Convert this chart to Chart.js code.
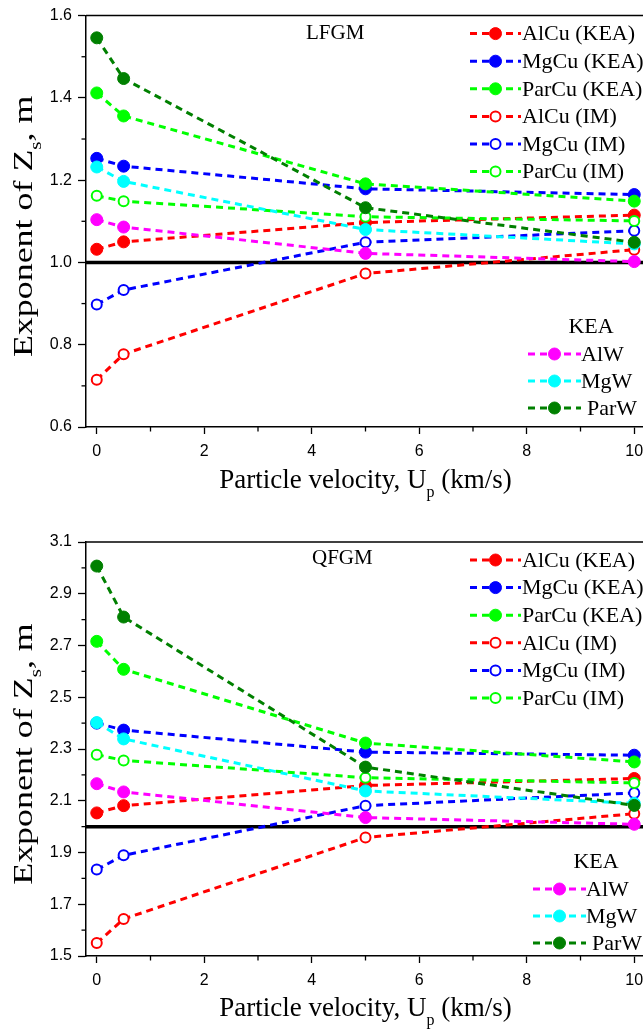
<!DOCTYPE html>
<html>
<head>
<meta charset="utf-8">
<script src="https://cdn.jsdelivr.net/npm/chart.js@4.4.1/dist/chart.umd.min.js"></script>
<style>
  html, body { margin: 0; padding: 0; background: #fff; overflow: hidden; }
  .box { position: absolute; left: 0; width: 700px; height: 515px; }
  #boxTop { top: 0; }
  #boxBottom { top: 515px; }
</style>
</head>
<body>
<div class="box" id="boxTop"><canvas id="lfgmChart"></canvas></div>
<div class="box" id="boxBottom"><canvas id="qfgmChart"></canvas></div>
<script>
// shared x values (particle velocity, km/s)
const velocity = [0, 0.5, 5, 10];
const xTicks = [0, 2, 4, 6, 8, 10];
const xRange = [-0.2, 10.2];

const cuNames = ['AlCu (KEA)', 'MgCu (KEA)', 'ParCu (KEA)', 'AlCu (IM)', 'MgCu (IM)', 'ParCu (IM)'];
const wNames = ['AlW', 'MgW', 'ParW'];

// LFGM values
const lfgmTicks = [0.6, 0.8, 1.0, 1.2, 1.4, 1.6];
const lfgmAlCuKEA = [1.032, 1.050, 1.097, 1.115];
const lfgmMgCuKEA = [1.253, 1.234, 1.179, 1.165];
const lfgmParCuKEA = [1.412, 1.356, 1.191, 1.149];
const lfgmAlCuIM = [0.715, 0.777, 0.973, 1.031];
const lfgmMgCuIM = [0.898, 0.933, 1.049, 1.077];
const lfgmParCuIM = [1.162, 1.149, 1.111, 1.101];
const lfgmAlW = [1.104, 1.086, 1.022, 1.002];
const lfgmMgW = [1.232, 1.197, 1.080, 1.045];
const lfgmParW = [1.546, 1.447, 1.133, 1.049];
const lfgmRef = 1.0;

// QFGM values
const qfgmTicks = [1.5, 1.7, 1.9, 2.1, 2.3, 2.5, 2.7, 2.9, 3.1];
const qfgmAlCuKEA = [2.053, 2.081, 2.159, 2.186];
const qfgmMgCuKEA = [2.400, 2.373, 2.288, 2.276];
const qfgmParCuKEA = [2.716, 2.608, 2.323, 2.250];
const qfgmAlCuIM = [1.550, 1.643, 1.958, 2.050];
const qfgmMgCuIM = [1.834, 1.889, 2.081, 2.130];
const qfgmParCuIM = [2.278, 2.256, 2.189, 2.169];
const qfgmAlW = [2.166, 2.134, 2.035, 2.009];
const qfgmMgW = [2.402, 2.339, 2.138, 2.090];
const qfgmParW = [3.007, 2.810, 2.230, 2.082];
const qfgmRef = 2.0;

const RED = '#ff0000', BLUE = '#0000ff', GREEN = '#00ff00';
const MAGENTA = '#ff00ff', CYAN = '#00ffff', DKGREEN = '#008000';
const SERIF = '"Liberation Serif", "Times New Roman", serif';
const SANS = '"Liberation Sans", Arial, sans-serif';

function series(label, values, color, open, group, idx) {
    return {
        label: label,
        group: group,
        open: open,
        order: -idx,
        data: values.map((y, i) => ({x: velocity[i], y: y})),
        borderColor: color,
        backgroundColor: color,
        pointBackgroundColor: open ? '#ffffff' : color,
        pointBorderColor: color,
        pointRadius: open ? 5 : 6,
        pointBorderWidth: open ? 2 : 1,
        borderWidth: 3,
        borderDash: [7, 5],
        tension: 0
    };
}

function refLine(value) {
    return {
        label: 'ref',
        group: 'ref',
        order: 100,
        data: [{x: xRange[0], y: value}, {x: xRange[1], y: value}],
        borderColor: '#000',
        borderWidth: 3.5,
        pointRadius: 0
    };
}

// text with one subscript part, centred on x; sx stretches along the text
function drawRich(ctx, parts, x, y, size, sx) {
    let total = 0;
    parts.forEach(p => {
        ctx.font = (p.sub ? Math.round(size * 0.6) : size) + 'px ' + SERIF;
        p.w = ctx.measureText(p.t).width;
        total += p.w;
    });
    ctx.save();
    ctx.translate(x, y);
    ctx.scale(sx || 1, 1);
    let cx = -total / 2;
    ctx.textAlign = 'left';
    ctx.textBaseline = 'alphabetic';
    parts.forEach(p => {
        ctx.font = (p.sub ? Math.round(size * 0.6) : size) + 'px ' + SERIF;
        ctx.fillText(p.t, cx, p.sub ? size * 0.32 : 0);
        cx += p.w;
    });
    ctx.restore();
}

function legendSample(ctx, ds, x0, x1, y) {
    ctx.save();
    ctx.strokeStyle = ds.borderColor;
    ctx.lineWidth = 3;
    ctx.setLineDash([7, 5]);
    ctx.beginPath();
    ctx.moveTo(x0, y);
    ctx.lineTo(x1, y);
    ctx.stroke();
    ctx.setLineDash([]);
    const mx = (x0 + x1) / 2;
    ctx.beginPath();
    ctx.arc(mx, y, ds.pointRadius, 0, Math.PI * 2);
    ctx.fillStyle = ds.pointBackgroundColor;
    ctx.fill();
    ctx.lineWidth = ds.pointBorderWidth;
    ctx.strokeStyle = ds.borderColor;
    ctx.stroke();
    ctx.restore();
}

const decorPlugin = {
    id: 'decor',
    afterDraw(chart) {
        const o = chart.options.plugins.decor;
        const ctx = chart.ctx;
        const a = chart.chartArea;
        const xs = chart.scales.x, ys = chart.scales.y;
        ctx.save();
        ctx.fillStyle = '#000';
        ctx.strokeStyle = '#000';

        // top frame line
        ctx.lineWidth = 1.5;
        ctx.beginPath();
        ctx.moveTo(a.left, a.top);
        ctx.lineTo(a.right, a.top);
        ctx.stroke();

        // minor ticks
        ctx.lineWidth = 1.3;
        for (let i = 0; i < xTicks.length - 1; i++) {
            const px = xs.getPixelForValue((xTicks[i] + xTicks[i + 1]) / 2);
            ctx.beginPath();
            ctx.moveTo(px, a.bottom);
            ctx.lineTo(px, a.bottom + 4.5);
            ctx.stroke();
        }
        const yt = o.yTicks;
        for (let i = 0; i < yt.length - 1; i++) {
            const py = ys.getPixelForValue((yt[i] + yt[i + 1]) / 2);
            ctx.beginPath();
            ctx.moveTo(a.left, py);
            ctx.lineTo(a.left - 4.5, py);
            ctx.stroke();
        }

        // axis titles
        drawRich(ctx, [{t: 'Particle velocity, U'}, {t: 'p', sub: true}, {t: ' (km/s)'}],
            (a.left + a.right) / 2, a.bottom + o.xTitleDy, 27, 1);
        ctx.save();
        ctx.translate(32, (a.top + a.bottom) / 2 + 5);
        ctx.rotate(-Math.PI / 2);
        drawRich(ctx, [{t: 'Exponent of Z'}, {t: 's', sub: true}, {t: ', m'}], 0, 0, 27, 1.33);
        ctx.restore();

        // panel label
        ctx.font = '21px ' + SERIF;
        ctx.textAlign = 'left';
        ctx.textBaseline = 'middle';
        ctx.fillText(o.panel, o.panelX, a.top + o.panelDy);

        // Cu legend
        const cu = chart.data.datasets.filter(d => d.group === 'cu');
        cu.forEach((ds, i) => {
            const y = a.top + o.cuTop + i * 27.6;
            legendSample(ctx, ds, 470, 521, y);
            ctx.fillStyle = '#000';
            ctx.font = '22px ' + SERIF;
            ctx.textAlign = 'left';
            ctx.textBaseline = 'middle';
            ctx.fillText(ds.label, 522, y + 1);
        });

        // W legend (KEA)
        const w = chart.data.datasets.filter(d => d.group === 'w');
        ctx.font = '22px ' + SERIF;
        ctx.textAlign = 'center';
        ctx.textBaseline = 'middle';
        ctx.fillText('KEA', o.keaX, a.bottom + o.keaDy);
        w.forEach((ds, i) => {
            const y = a.bottom + o.keaDy + 27 + i * 27;
            legendSample(ctx, ds, o.wX0, o.wX0 + 53, y);
            ctx.fillStyle = '#000';
            ctx.font = '22px ' + SERIF;
            ctx.textAlign = 'left';
            ctx.textBaseline = 'middle';
            ctx.fillText(ds.label, o.wX0 + 53 + (i === 2 ? 6 : 0), y + 1);
        });
        ctx.restore();
    }
};

function buildChart(id, vals, ref, yTicks, lay) {
    const cuColors = [RED, BLUE, GREEN, RED, BLUE, GREEN];
    const datasets = [];
    cuNames.forEach((n, i) => datasets.push(series(n, vals[i], cuColors[i], i >= 3, 'cu', i)));
    const wColors = [MAGENTA, CYAN, DKGREEN];
    wNames.forEach((n, i) => datasets.push(series(n, vals[6 + i], wColors[i], false, 'w', 6 + i)));
    datasets.push(refLine(ref));

    const config = {
        type: 'line',
        data: {datasets: datasets},
        options: {
            responsive: true,
            maintainAspectRatio: false,
            animation: false,
            events: [],
            layout: {padding: {top: lay.top, right: 55, left: 0, bottom: 0}},
            plugins: {
                legend: {display: false},
                tooltip: {enabled: false},
                decor: lay
            },
            scales: {
                x: {
                    type: 'linear',
                    min: xRange[0],
                    max: xRange[1],
                    afterBuildTicks: s => { s.ticks = xTicks.map(v => ({value: v})); },
                    afterFit: s => { s.height = lay.xAxisH; },
                    border: {display: true, color: '#000', width: 1.5},
                    grid: {drawOnChartArea: false, drawTicks: true, tickLength: 7, tickColor: '#000', tickWidth: 1.3},
                    ticks: {color: '#000', font: {family: SANS, size: 16}, padding: 8, maxRotation: 0,
                        callback: v => String(v)}
                },
                y: {
                    type: 'linear',
                    min: yTicks[0],
                    max: yTicks[yTicks.length - 1],
                    afterBuildTicks: s => { s.ticks = yTicks.map(v => ({value: v})); },
                    afterFit: s => { s.width = 86; },
                    border: {display: true, color: '#000', width: 1.5},
                    grid: {drawOnChartArea: false, drawTicks: true, tickLength: 8, tickColor: '#000', tickWidth: 1.3},
                    ticks: {color: '#000', font: {family: SANS, size: 16}, padding: 6,
                        callback: v => Number(v).toFixed(1)}
                }
            }
        },
        plugins: [decorPlugin]
    };
    return new Chart(document.getElementById(id).getContext('2d'), config);
}

document.addEventListener('DOMContentLoaded', function() {
    buildChart('lfgmChart',
        [lfgmAlCuKEA, lfgmMgCuKEA, lfgmParCuKEA, lfgmAlCuIM, lfgmMgCuIM, lfgmParCuIM, lfgmAlW, lfgmMgW, lfgmParW],
        lfgmRef, lfgmTicks,
        {top: 12, xAxisH: 88, yTicks: lfgmTicks, xTitleDy: 61, panel: 'LFGM', panelX: 306, panelDy: 18,
         cuTop: 18, keaX: 591, keaDy: -100, wX0: 528});

    buildChart('qfgmChart',
        [qfgmAlCuKEA, qfgmMgCuKEA, qfgmParCuKEA, qfgmAlCuIM, qfgmMgCuIM, qfgmParCuIM, qfgmAlW, qfgmMgW, qfgmParW],
        qfgmRef, qfgmTicks,
        {top: 27, xAxisH: 74, yTicks: qfgmTicks, xTitleDy: 60, panel: 'QFGM', panelX: 312, panelDy: 16,
         cuTop: 18, keaX: 596, keaDy: -94, wX0: 533});
});
</script>
</body>
</html>
